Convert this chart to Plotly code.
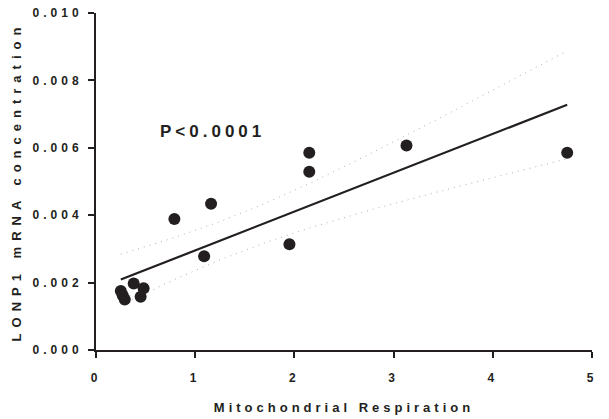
import numpy as np
import plotly.graph_objects as go

# Data
respiration = [0.25, 0.27, 0.29, 0.38, 0.45, 0.48, 0.79, 1.09, 1.16, 1.95, 2.15, 2.15, 3.13, 4.75]
lonp1 = [0.00175, 0.00162, 0.00150, 0.00197, 0.00158, 0.00183, 0.00389, 0.00278,
         0.00434, 0.00314, 0.00585, 0.00529, 0.00607, 0.00585]
x_ticks = [0, 1, 2, 3, 4, 5]
y_ticks = [0.000, 0.002, 0.004, 0.006, 0.008, 0.010]
p_label = "P<0.0001"

# Linear regression with 95% confidence band
xa = np.array(respiration)
ya = np.array(lonp1)
n = len(xa)
slope, intercept = np.polyfit(xa, ya, 1)
xs = np.linspace(xa.min(), xa.max(), 100)
fit = intercept + slope * xs
resid = ya - (intercept + slope * xa)
s = np.sqrt(np.sum(resid ** 2) / (n - 2))
t_crit = 2.1788  # t(0.975, df=12)
sxx = np.sum((xa - xa.mean()) ** 2)
half = t_crit * s * np.sqrt(1.0 / n + (xs - xa.mean()) ** 2 / sxx)

ink = "#231f20"
font = dict(family="Liberation Sans, Arial, sans-serif", color=ink)

fig = go.Figure()
fig.add_trace(go.Scatter(x=xs, y=fit + half, mode="lines",
                         line=dict(color="#b0b0b0", width=1, dash="1px,5px"),
                         hoverinfo="skip", showlegend=False))
fig.add_trace(go.Scatter(x=xs, y=fit - half, mode="lines",
                         line=dict(color="#b0b0b0", width=1, dash="1px,5px"),
                         hoverinfo="skip", showlegend=False))
fig.add_trace(go.Scatter(x=xs, y=fit, mode="lines",
                         line=dict(color=ink, width=2.2),
                         showlegend=False))
fig.add_trace(go.Scatter(x=respiration, y=lonp1, mode="markers",
                         marker=dict(color=ink, size=12, line=dict(width=0)),
                         showlegend=False))

fig.add_annotation(x=0.79, y=0.00648, xref="x", yref="y", text=p_label,
                   showarrow=False, xanchor="left", yanchor="middle",
                   font=dict(size=17, weight="bold", **font))

axis_common = dict(showline=True, linecolor=ink, linewidth=2, ticks="outside",
                   tickcolor=ink, tickwidth=2, ticklen=6, showgrid=False,
                   zeroline=False, mirror=False, automargin=False)

fig.update_xaxes(range=[0, 5], tickvals=x_ticks, ticktext=[str(v) for v in x_ticks],
                 tickfont=dict(size=12, weight="bold", **font),
                 ticklabelstandoff=10,
                 title=dict(text="Mitochondrial Respiration",
                            font=dict(size=13, weight="bold", **font), standoff=18),
                 **axis_common)
fig.update_yaxes(range=[0, 0.010], tickvals=y_ticks,
                 ticktext=[f"{v:.3f}" for v in y_ticks],
                 tickfont=dict(size=12, weight="bold", **font),
                 ticklabelstandoff=3,
                 title=dict(text="LONP1 mRNA concentration",
                            font=dict(size=13, weight="bold", **font), standoff=28),
                 **axis_common)

fig.update_layout(width=609, height=419, autosize=False,
                  margin=dict(l=95.5, r=17, t=13, b=69, autoexpand=False),
                  plot_bgcolor="white", paper_bgcolor="white",
                  font=font)

post = """
document.body.style.margin = '0';
var gd = document.getElementById('{plot_id}');
function ls(){
  gd.querySelectorAll('text').forEach(function(t){ t.style.letterSpacing='4px'; });
  gd.querySelectorAll('text.ytitle').forEach(function(t){ t.style.letterSpacing='6px'; });
}
ls();
if (gd.on) { gd.on('plotly_afterplot', ls); }
setTimeout(ls, 50);
"""
fig.write_html("out.html", post_script=post, config={"displayModeBar": False})
